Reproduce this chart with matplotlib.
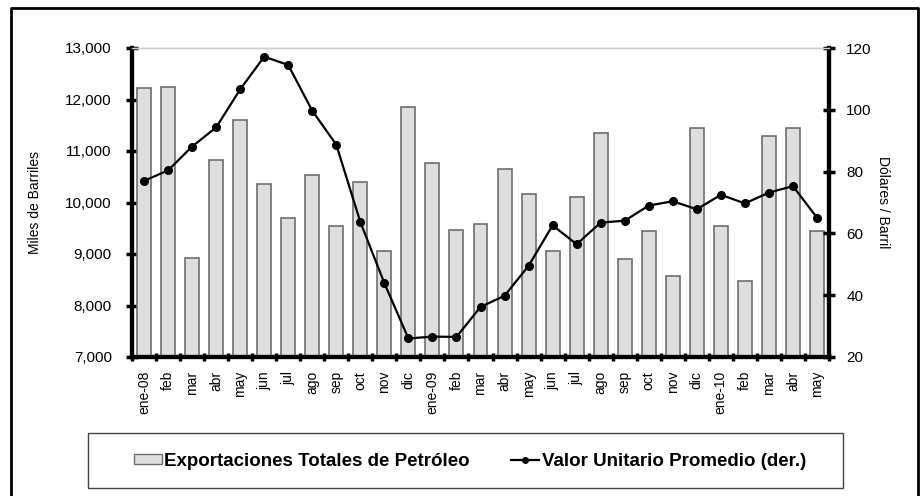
import matplotlib
matplotlib.use("Agg")
import matplotlib.pyplot as plt
from matplotlib.patches import Rectangle
from matplotlib.lines import Line2D
import numpy as np

plt.rcParams['font.family'] = ['Liberation Sans', 'DejaVu Sans']

months = ["ene-08", "feb", "mar", "abr", "may", "jun", "jul", "ago", "sep", "oct", "nov", "dic",
          "ene-09", "feb", "mar", "abr", "may", "jun", "jul", "ago", "sep", "oct", "nov", "dic",
          "ene-10", "feb", "mar", "abr", "may"]
exports = [12217, 12247, 8916, 10819, 11596, 10365, 9705, 10540, 9535, 10398, 9064, 11860,
           10773, 9460, 9583, 10656, 10165, 9064, 10113, 11355, 8896, 9440, 8579, 11447,
           9537, 8482, 11291, 11447, 9440]
unit_value = [77.0, 80.4, 88.1, 94.3, 106.6, 117.2, 114.5, 99.7, 88.7, 63.7, 43.9, 26.0,
              26.6, 26.5, 36.2, 39.8, 49.5, 62.6, 56.5, 63.5, 64.1, 69.0, 70.4, 67.8,
              72.5, 69.7, 73.2, 75.3, 65.1]

W, H = 923, 496
fig = plt.figure(figsize=(W / 100, H / 100), dpi=100)
ax = fig.add_axes([132 / W, 1 - 357 / H, 697 / W, 309 / H])
ax2 = ax.twinx()

x = np.arange(len(months))
ax.bar(x, exports, width=0.58, color='#dedede', edgecolor='#6e6e6e', linewidth=1.2, zorder=2)
ax.set_ylim(7000, 13000)
ax.set_xlim(-0.5, len(months) - 0.5)
ax.set_yticks(np.arange(7000, 13001, 1000))
ax.set_yticklabels([f"{v:,}" for v in range(7000, 13001, 1000)])

ax2.plot(x, unit_value, color='black', linewidth=1.6, marker='o', markersize=5.5, zorder=3)
ax2.set_ylim(20, 120)
ax2.set_yticks(np.arange(20, 121, 20))

ax.set_xticks(np.arange(-0.5, len(months), 1.0))
ax.set_xticklabels([])
ax.set_xticks(x, minor=True)
ax.set_xticklabels(months, minor=True, rotation=90, fontsize=10)
ax.tick_params(axis='x', which='minor', length=0, pad=10)
ax.tick_params(axis='x', which='major', direction='inout', length=6, width=2.5)
ax.tick_params(axis='y', direction='inout', length=9, width=2.5, labelsize=11, pad=10)
ax2.tick_params(axis='y', direction='inout', length=9, width=2.5, labelsize=11, pad=8)

for a in (ax, ax2):
    a.spines['left'].set_linewidth(3)
    a.spines['right'].set_linewidth(3)
    a.spines['bottom'].set_linewidth(3)
    a.spines['top'].set_color('#d0d0d0')
    a.spines['top'].set_linewidth(1)

ax.set_ylabel("Miles de Barriles", fontsize=10, va='center')
ax.yaxis.set_label_coords((35 - 132) / 697, 0.5)
ax2.set_ylabel("Dólares / Barril", fontsize=10, rotation=270, va='center')
ax2.yaxis.set_label_coords((883 - 132) / 697, 0.5)

# outer border (no bottom edge)
fig.add_artist(Line2D([11 / W, 11 / W, 918 / W, 918 / W], [0, 1 - 8 / H, 1 - 8 / H, 0],
                      transform=fig.transFigure, color='black', linewidth=2))

# legend box
fig.add_artist(Rectangle((88 / W, 1 - 488 / H), (843 - 88) / W, (488 - 433) / H,
                         transform=fig.transFigure, fill=False, edgecolor='#444444', linewidth=1))
handles = [Rectangle((0, 0), 1, 1, facecolor='#dedede', edgecolor='#6e6e6e', linewidth=1),
           Line2D([0], [0], color='black', linewidth=1.6, marker='o', markersize=4)]
fig.legend(handles, ["Exportaciones Totales de Petróleo", "Valor Unitario Promedio (der.)"],
           loc='center', bbox_to_anchor=(470 / W, 1 - 461 / H), ncol=2, frameon=False,
           prop={'weight': 'bold', 'size': 13.5}, handlelength=1.5, handletextpad=0.15,
           columnspacing=2.2, handleheight=0.5)

fig.savefig("out.png", dpi=100)
